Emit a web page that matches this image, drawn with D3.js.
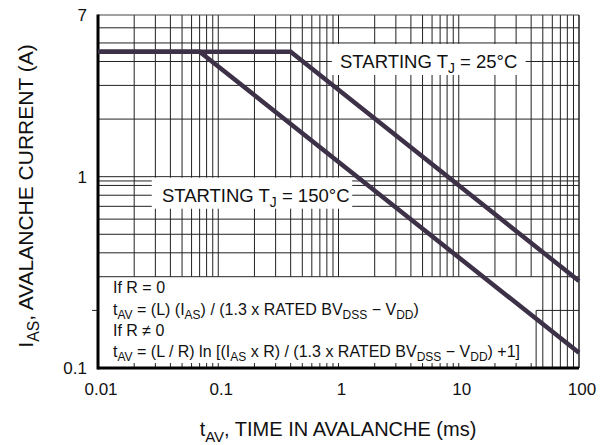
<!DOCTYPE html>
<html>
<head>
<meta charset="utf-8">
<script src="https://cdn.jsdelivr.net/npm/d3@7"></script>
<style>
  body { margin: 0; background: #fff; }
  text { font-family: "Liberation Sans", Arial, Helvetica, sans-serif; fill: #111; }
</style>
</head>
<body>
<div id="chart"></div>
<script>
// avalanche current vs time
const tj25 = [{ t: 0.01, i: 4.5 }, { t: 0.4, i: 4.5 }, { t: 100, i: 0.285 }];
const tj150 = [{ t: 0.01, i: 4.5 }, { t: 0.07, i: 4.5 }, { t: 100, i: 0.12 }];

const xTicks = [0.01, 0.1, 1, 10, 100];
const xTickLabels = ['0.01', '0.1', '1', '10', '100'];
const yTicks = [0.1, 1, 7];
const yTickLabels = ['0.1', '1', '7'];
const yGrid = [6, 5, 4, 3, 2, 1, 0.95, 0.9, 0.8, 0.7, 0.6, 0.5, 0.4, 0.3];

const width = 614, height = 445;
const x = d3.scaleLog().domain([0.01, 100]).range([98, 579]);
const y = d3.scaleLog().domain([0.1, 7]).range([368, 15]);

// every 1..9 line in each decade
const xGrid = [];
for (let d = 0.01; d < 100; d *= 10) {
  for (let k = 1; k < 10; k++) xGrid.push(+(k * d).toPrecision(2));
}
xGrid.push(100);

const svg = d3.select('#chart').append('svg')
  .attr('width', width)
  .attr('height', height);

const grid = svg.append('g').attr('stroke', '#222').attr('stroke-width', 1);

grid.selectAll('.hg')
  .data(yGrid)
  .join('line')
    .attr('x1', x(0.01)).attr('x2', x(100))
    .attr('y1', d => y(d)).attr('y2', d => y(d));

grid.selectAll('.vg')
  .data(xGrid)
  .join('line')
    .attr('x1', d => x(d)).attr('x2', d => x(d))
    .attr('y1', y(7))
    .attr('y2', d => d >= 50 ? y(0.1) : y(0.3));

// stepped right side of the formula box
grid.append('line')
  .attr('x1', x(44)).attr('x2', x(100))
  .attr('y1', y(0.2)).attr('y2', y(0.2));
grid.append('line')
  .attr('x1', x(44)).attr('x2', x(44))
  .attr('y1', y(0.2)).attr('y2', y(0.1));

// short ticks along the bottom inside the formula box
grid.selectAll('.bt')
  .data(xGrid.filter(d => d < 44))
  .join('line')
    .attr('x1', d => x(d)).attr('x2', d => x(d))
    .attr('y1', y(0.1)).attr('y2', y(0.1) - 5);

// left tick at 0.2
grid.append('line')
  .attr('x1', x(0.01) - 6).attr('x2', x(0.01))
  .attr('y1', y(0.2)).attr('y2', y(0.2));

// frame
svg.append('line').attr('x1', x(0.01)).attr('x2', x(100)).attr('y1', y(7)).attr('y2', y(7))
  .attr('stroke', '#444').attr('stroke-width', 1);
svg.append('line').attr('x1', x(100)).attr('x2', x(100)).attr('y1', y(7)).attr('y2', y(0.1))
  .attr('stroke', '#222').attr('stroke-width', 1);
svg.append('line').attr('x1', x(0.01)).attr('x2', x(0.01)).attr('y1', y(7) - 0.5).attr('y2', y(0.1) + 1.5)
  .attr('stroke', '#000').attr('stroke-width', 3);
svg.append('line').attr('x1', x(0.01)).attr('x2', x(100)).attr('y1', y(0.1)).attr('y2', y(0.1))
  .attr('stroke', '#000').attr('stroke-width', 3);

// text with subscripts: parts = [[string, isSub], ...]
function rich(sel, parts, size) {
  let sub = false;
  parts.forEach(([s, isSub]) => {
    const t = sel.append('tspan').text(s);
    if (isSub && !sub) t.attr('dy', size * 0.28).attr('font-size', size * 0.75);
    else if (!isSub && sub) t.attr('dy', -size * 0.28).attr('font-size', size);
    else if (isSub) t.attr('font-size', size * 0.75);
    sub = isSub;
  });
}

// formula box (under the curves)
const fSize = 16;
const formulas = [
  [['If R = 0', false]],
  [['t', false], ['AV', true], [' = (L) (I', false], ['AS', true], [') / (1.3 x RATED BV', false],
   ['DSS', true], [' − V', false], ['DD', true], [')', false]],
  [['If R ≠ 0', false]],
  [['t', false], ['AV', true], [' = (L / R) ln [(I', false], ['AS', true], [' x R) / (1.3 x RATED BV', false],
   ['DSS', true], [' − V', false], ['DD', true], [') +1]', false]]
];
const fBase = [293, 315, 336, 357];
formulas.forEach((p, k) => {
  const t = svg.append('text')
    .attr('x', 113).attr('y', fBase[k])
    .attr('font-size', fSize);
  rich(t, p, fSize);
});

// curve labels on white boxes
const lSize = 18.5;
function label(tx, ty, parts, boxX0, boxX1) {
  svg.append('rect')
    .attr('x', x(boxX0)).attr('y', ty - 24)
    .attr('width', x(boxX1) - x(boxX0)).attr('height', 31)
    .attr('fill', '#fff');
  const t = svg.append('text')
    .attr('x', x(tx)).attr('y', ty)
    .attr('font-size', lSize);
  rich(t, parts, lSize);
}
label(1.03, y(3.7), [['STARTING T', false], ['J', true], [' = 25°C', false]], 0.88, 36);
label(0.034, y(0.74), [['STARTING T', false], ['J', true], [' = 150°C', false]], 0.028, 1.3);

// series
const line = d3.line().x(d => x(d.t)).y(d => y(d.i));
[tj25, tj150].forEach(s => {
  svg.append('path')
    .datum(s)
    .attr('d', line)
    .attr('fill', 'none')
    .attr('stroke', '#3d3148')
    .attr('stroke-width', 4.5)
    .attr('stroke-linejoin', 'miter');
});

// tick labels
svg.selectAll('.xl')
  .data(xTicks)
  .join('text')
    .attr('x', d => x(d) + 3)
    .attr('y', 395)
    .attr('text-anchor', 'middle')
    .attr('font-size', 17)
    .text((d, i) => xTickLabels[i]);

svg.selectAll('.yl')
  .data(yTicks)
  .join('text')
    .attr('x', 87)
    .attr('y', d => y(d) + 6)
    .attr('text-anchor', 'end')
    .attr('font-size', 17)
    .text((d, i) => yTickLabels[i]);

// axis titles
const xt = svg.append('text')
  .attr('x', 338).attr('y', 436)
  .attr('text-anchor', 'middle')
  .attr('font-size', 20);
rich(xt, [['t', false], ['AV', true], [', TIME IN AVALANCHE (ms)', false]], 20);

const yt = svg.append('text')
  .attr('transform', 'translate(33,196) rotate(-90)')
  .attr('text-anchor', 'middle')
  .attr('font-size', 21);
rich(yt, [['I', false], ['AS', true], [', AVALANCHE CURRENT (A)', false]], 21);
</script>
</body>
</html>
